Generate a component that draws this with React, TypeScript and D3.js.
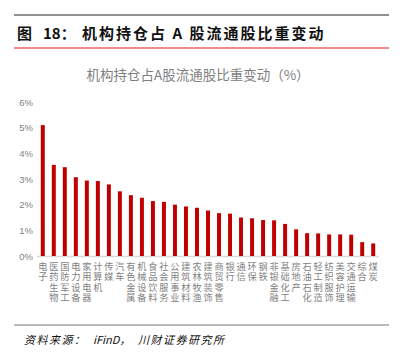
import React from "react";
import * as d3 from "d3";

const categories = ["电子","医药生物","国防军工","电力设备","家用电器","计算机","传媒","汽车","有色金属","机械设备","食品饮料","社会服务","公用事业","建筑材料","农林牧渔","建筑装饰","商贸零售","银行","通信","环保","钢铁","非银金融","基础化工","房地产","石油石化","轻工制造","纺织服饰","美容护理","交通运输","综合","煤炭"];
const values = [5.10,3.55,3.46,3.07,2.94,2.92,2.79,2.52,2.37,2.27,2.14,2.11,2.00,1.93,1.88,1.77,1.67,1.65,1.50,1.47,1.40,1.39,1.25,1.04,0.89,0.88,0.84,0.84,0.83,0.54,0.49];
const yTicks = [0,1,2,3,4,5,6];

const W = 404, H = 357;

export default function App() {
  const x = d3.scaleBand<string>().domain(categories).range([37.5, 378.5]).paddingInner(0.64).paddingOuter(0.3);
  const y = d3.scaleLinear().domain([0, 6]).range([256, 102]);
  const bw = x.bandwidth();
  const font = "'Noto Sans CJK SC', 'Noto Sans', sans-serif";
  return (
    <svg width={W} height={H} style={{ position: "absolute", left: 0, top: 0, background: "#fff" }}>
      <line x1={14} x2={389} y1={15} y2={15} stroke="#222" strokeWidth={1} />
      <text y={38.5} fontFamily={font} fontWeight="bold" fontSize={15} fill="#111">
        <tspan x={17}>图</tspan>
        <tspan x={43}>18：</tspan>
        <tspan x={82} letterSpacing={2}>机构持仓占 A 股流通股比重变动</tspan>
      </text>
      <line x1={14} x2={389} y1={48} y2={48} stroke="#d7191c" strokeWidth={1} />
      <text x={198} y={80} textAnchor="middle" fontFamily={font} fontSize={13.5} fill="#7f7f7f">机构持仓占A股流通股比重变动（%）</text>
      {yTicks.map(t => (
        <text key={t} x={33} y={y(t) + 3.5} textAnchor="end" fontFamily="'Liberation Sans', sans-serif" fontSize={9.5} fill="#7f7f7f">{t}%</text>
      ))}
      <line x1={37} x2={379} y1={y(0) + 0.5} y2={y(0) + 0.5} stroke="#d9d9d9" strokeWidth={1.5} />
      {categories.map((c, i) => (
        <rect key={c} x={x(c)!} y={y(values[i])} width={bw} height={y(0) - y(values[i])} fill="#c00000" />
      ))}
      {categories.map(c => (
        <text key={c + "l"} x={x(c)! + bw / 2} y={261.5} fontFamily={font} fontSize={9.2} fill="#7f7f7f"
          style={{ writingMode: "vertical-rl", textOrientation: "upright" } as React.CSSProperties}
          letterSpacing={1.3}>{c}</text>
      ))}
      <line x1={14} x2={389} y1={325} y2={325} stroke="#777" strokeWidth={1} />
      <text y={344} fontFamily={font} fontStyle="italic" fontSize={11} fill="#111">
        <tspan x={24} letterSpacing={1.5}>资料来源：</tspan>
        <tspan x={93}>iFinD，</tspan>
        <tspan x={138} letterSpacing={1.5}>川财证券研究所</tspan>
      </text>
    </svg>
  );
}
